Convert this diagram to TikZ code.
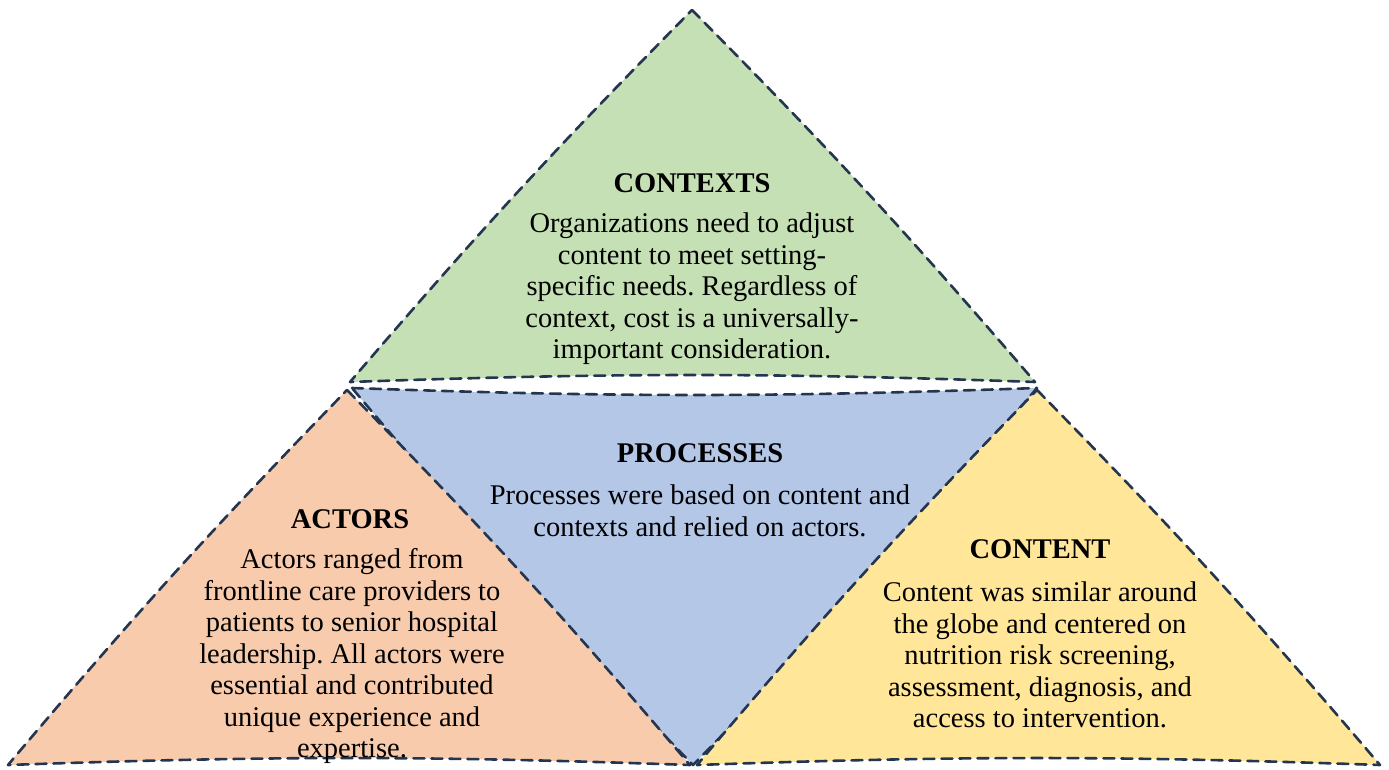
\documentclass[tikz,border=0pt]{standalone}
\usepackage{fontspec}
\setmainfont{Liberation Serif}
\frenchspacing
\definecolor{gfill}{HTML}{C5E0B4}
\definecolor{bfill}{HTML}{B4C7E7}
\definecolor{ofill}{HTML}{F8CBAD}
\definecolor{yfill}{HTML}{FFE699}
\definecolor{navy}{HTML}{24364F}
\begin{document}
\begin{tikzpicture}[x=1pt,y=-1pt,
  edge/.style={draw=navy, line width=2.6pt, dash pattern=on 11pt off 7pt, line join=round, line cap=round},
  title/.style={font=\fontsize{28.5}{31.5}\selectfont\bfseries, inner sep=0pt},
  body/.style={font=\fontsize{28.5}{31.5}\selectfont, align=center, inner sep=0pt}]
\useasboundingbox (0,0) rectangle (1389,770);
% green top triangle
\path[edge, fill=gfill] (692,10) to[bend left=2] (1035,382) to[bend right=2] (350,382) to[bend left=2] cycle;
% blue inverted triangle
\path[edge, fill=bfill] (352,388) to[bend right=2] (1037,388) to[bend left=2] (693,765) to[bend left=2] cycle;
% orange left triangle
\path[edge, fill=ofill] (347,390) to[bend left=2] (690,765) to[bend right=2] (8,765) to[bend left=2] cycle;
% yellow right triangle
\path[edge, fill=yfill] (1037,390) to[bend left=2] (1380,765) to[bend right=2] (697,765) to[bend left=2] cycle;

\node[title] (t1) at (692,183) {CONTEXTS};
\node[body] (b1) at (692,289) {Organizations need to adjust\\content to meet setting-\\specific needs. Regardless of\\context, cost is a universally-\\important consideration.};
\node[title] (t2) at (700,453) {PROCESSES};
\node[body] (b2) at (700,511) {Processes were based on content and\\contexts and relied on actors.};
\node[title] (t3) at (350,519) {ACTORS};
\node[body] (b3) at (352,656) {Actors ranged from\\frontline care providers to\\patients to senior hospital\\leadership. All actors were\\essential and contributed\\unique experience and\\expertise.};
\node[title] (t4) at (1040,549) {CONTENT};
\node[body] (b4) at (1040,655) {Content was similar around\\the globe and centered on\\nutrition risk screening,\\assessment, diagnosis, and\\access to intervention.};
\end{tikzpicture}
\end{document}
